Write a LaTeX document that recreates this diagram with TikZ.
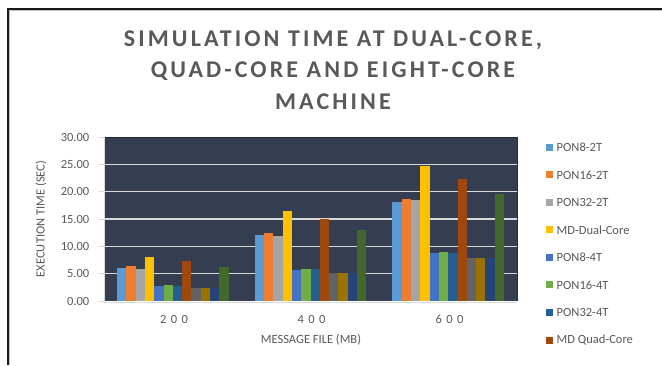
\documentclass[tikz,border=0pt]{standalone}
\usepackage{fontspec}
\setmainfont{Carlito}
\newfontfamily\titlefont[LetterSpace=13]{Carlito}
\newfontfamily\digitfont[LetterSpace=35]{Carlito}
\definecolor{txt}{HTML}{595959}
\definecolor{plotbg}{HTML}{343E50}
\definecolor{gridc}{HTML}{D9D9D9}
\definecolor{s1}{HTML}{5B9BD5}
\definecolor{s2}{HTML}{ED7D31}
\definecolor{s3}{HTML}{A5A5A5}
\definecolor{s4}{HTML}{FFC000}
\definecolor{s5}{HTML}{4472C4}
\definecolor{s6}{HTML}{70AD47}
\definecolor{s7}{HTML}{255E91}
\definecolor{s8}{HTML}{9E480E}
\definecolor{s9}{HTML}{636363}
\definecolor{s10}{HTML}{997300}
\definecolor{s11}{HTML}{264478}
\definecolor{s12}{HTML}{43682B}
\begin{document}
\begin{tikzpicture}[x=1pt,y=-1pt,
  titletext/.style={text=txt,font=\titlefont\bfseries\fontsize{24}{28}\selectfont,anchor=base,inner sep=0pt},
  ticklabel/.style={text=txt,font=\fontsize{12.5}{14}\selectfont,anchor=east,inner sep=0pt},
  catlabel/.style={text=txt,font=\digitfont\fontsize{12.5}{14}\selectfont,inner sep=0pt},
  axistitle/.style={text=txt,font=\fontsize{12.5}{14}\selectfont,inner sep=0pt},
  legtext/.style={text=txt,font=\fontsize{12.5}{14}\selectfont,anchor=west,inner sep=0pt},
  gridline/.style={draw=gridc,line width=1.2pt},
  axisline/.style={draw=gridc,line width=1pt}]
\useasboundingbox (0,0) rectangle (662,365);
\fill[white] (0,0) rectangle (662,365);
% outer frame
\draw[black!90,line width=1.6pt] (8,365) -- (8,9) -- (662,9);
\draw[gray!50,line width=0.8pt] (9.6,365) -- (9.6,10.6) -- (662,10.6);
% title
\node[titletext] (title1) at (333,46) {SIMULATION TIME AT DUAL-CORE,};
\node[titletext] (title2) at (333,77.5) {QUAD-CORE AND EIGHT-CORE};
\node[titletext] (title3) at (333,109) {MACHINE};
% plot area
\fill[plotbg] (104,137) rectangle (517,301);
\foreach \k in {1,...,5} {
  \draw[gridline] (104,{301-27.333*\k}) -- (517,{301-27.333*\k});
}
\draw[plotbg!70!black,line width=1pt] (104,137) -- (517,137) -- (517,301);
% bars
\foreach \i/\col/\va/\vb/\vc in {
  0/s1/6.1/12.1/18.2, 1/s2/6.4/12.4/18.6, 2/s3/5.8/11.9/18.4, 3/s4/8.1/16.4/24.7,
  4/s5/2.75/5.6/8.75, 5/s6/2.95/5.8/9.0, 6/s7/2.75/5.8/8.75, 7/s8/7.4/15.0/22.4,
  8/s9/2.45/5.2/7.9, 9/s10/2.45/5.2/7.9, 10/s11/2.45/5.2/7.9, 11/s12/6.3/13.0/19.5} {
  \fill[\col] ({172.8-55.8+9.3*\i},301) rectangle ++(9.3,{-\va*5.4667});
  \fill[\col] ({310.5-55.8+9.3*\i},301) rectangle ++(9.3,{-\vb*5.4667});
  \fill[\col] ({448.2-55.8+9.3*\i},301) rectangle ++(9.3,{-\vc*5.4667});
}
% axes
\draw[axisline] (104,137) -- (104,302) -- (517,302);
\foreach \k/\lab in {0/0.00,1/5.00,2/10.00,3/15.00,4/20.00,5/25.00,6/30.00} {
  \draw[axisline] (99,{301-27.333*\k}) -- (104,{301-27.333*\k});
  \node[ticklabel] (y\k) at (89.5,{301-27.333*\k}) {\lab};
}
\node[axistitle,rotate=90] (ytitle) at (41,219) {EXECUTION TIME (SEC)};
\node[catlabel] (c200) at (174,319) {200};
\node[catlabel] (c400) at (311.5,319) {400};
\node[catlabel] (c600) at (449.5,319) {600};
\node[axistitle] (xtitle) at (311,340) {MESSAGE FILE (MB)};
% legend
\foreach \j/\col/\lab in {0/s1/PON8-2T,1/s2/PON16-2T,2/s3/PON32-2T,3/s4/MD-Dual-Core,
  4/s5/PON8-4T,5/s6/PON16-4T,6/s7/PON32-4T,7/s8/MD Quad-Core} {
  \fill[\col] (545.7,{147.3+27.53*\j-3.5}) rectangle ++(7,7);
  \node[legtext] (leg\j) at (556.5,{147.3+27.53*\j}) {\lab};
}
\end{tikzpicture}
\end{document}
